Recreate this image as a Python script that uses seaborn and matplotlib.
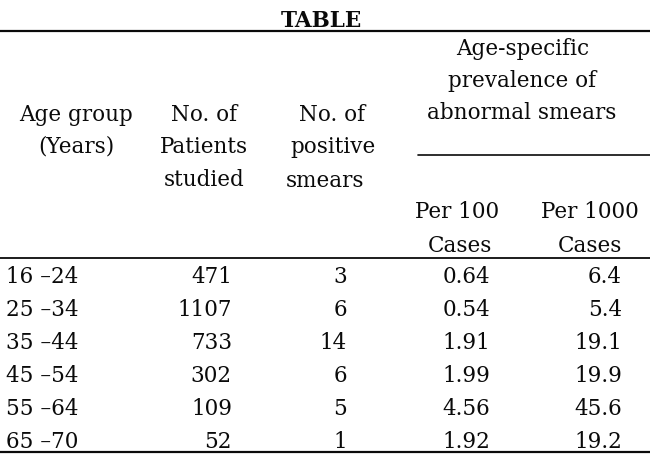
import seaborn as sns
import matplotlib.pyplot as plt

# Table values
age_groups = ["16 \u201324", "25 \u201334", "35 \u201344",
              "45 \u201354", "55 \u201364", "65 \u201370"]
patients = [471, 1107, 733, 302, 109, 52]
positives = [3, 6, 14, 6, 5, 1]
per_100 = ["0.64", "0.54", "1.91", "1.99", "4.56", "1.92"]
per_1000 = ["6.4", "5.4", "19.1", "19.9", "45.6", "19.2"]

sns.set_theme(style="white")
plt.rcParams['font.family'] = ['DejaVu Serif']

fig = plt.figure(figsize=(6.5, 4.66), dpi=100)
ax = fig.add_axes([0, 0, 1, 1])
ax.set_xlim(0, 650)
ax.set_ylim(466, 0)
ax.axis("off")

fs = 15.5
ink = "#0a0a0a"

def txt(x, y, s, ha="center", **kw):
    ax.text(x, y, s, ha=ha, va="baseline", fontsize=fs, color=ink, **kw)

# title
ax.text(321, 27, "TABLE", ha="center", va="baseline", fontsize=15.5,
        fontweight="bold", color=ink)

# rules
ax.plot([0, 650], [31, 31], color=ink, lw=1.6)
ax.plot([418, 650], [155, 155], color=ink, lw=1.2)
ax.plot([0, 650], [258, 258], color=ink, lw=1.3)
ax.plot([0, 650], [452, 452], color=ink, lw=1.6)

# header
txt(76, 121, "Age group")
txt(76, 153, "(Years)")
txt(204, 121, "No. of")
txt(204, 153, "Patients")
txt(204, 186, "studied")
txt(332, 121, "No. of")
txt(333, 153, "positive")
txt(325, 187, "smears")
txt(523, 55, "Age-specific")
txt(522, 87, "prevalence of")
txt(522, 119, "abnormal smears")
txt(457, 218, "Per 100")
txt(590, 218, "Per 1000")
txt(460, 252, "Cases")
txt(590, 252, "Cases")

# body rows
for i in range(len(age_groups)):
    y = 283 + 33 * i
    txt(6, y, age_groups[i], ha="left")
    txt(232, y, str(patients[i]), ha="right")
    txt(347, y, str(positives[i]), ha="right")
    txt(490, y, per_100[i], ha="right")
    txt(622, y, per_1000[i], ha="right")

plt.savefig("out.png", dpi=100, facecolor="white")
